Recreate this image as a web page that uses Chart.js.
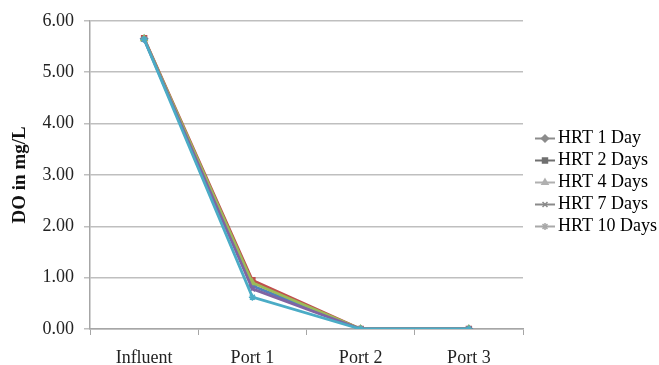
<!DOCTYPE html>
<html>
<head>
<meta charset="utf-8">
<script src="https://cdn.jsdelivr.net/npm/chart.js@4/dist/chart.umd.min.js"></script>
<style>
  html, body { margin: 0; padding: 0; background: #fff; }
  #wrap { width: 659px; height: 365px; }
</style>
</head>
<body>
<div id="wrap"><canvas id="doChart"></canvas></div>
<script>
// Sampling locations
const locations = ['Influent', 'Port 1', 'Port 2', 'Port 3'];

// DO (mg/L) per HRT
const hrt1Day = [5.65, 0.84, 0.00, 0.00];
const hrt2Days = [5.66, 0.95, 0.00, 0.00];
const hrt4Days = [5.65, 0.90, 0.00, 0.00];
const hrt7Days = [5.64, 0.78, 0.00, 0.00];
const hrt10Days = [5.64, 0.62, 0.00, 0.00];

const yTicks = [0, 1, 2, 3, 4, 5, 6];

const serif = '"Liberation Serif", "DejaVu Serif", serif';

function series(label, data, color, legendColor, marker, order) {
    return {
        label: label,
        data: data,
        borderColor: color,
        backgroundColor: color,
        borderWidth: 2.8,
        pointStyle: marker,
        pointRadius: 3.5,
        pointBorderWidth: 1.5,
        legendColor: legendColor,
        order: order,
        tension: 0
    };
}

// Excel style legend keys: a short gray line with the marker on it
const legendKeys = {
    id: 'legendKeys',
    afterDraw(chart) {
        const legend = chart.legend;
        if (!legend || !legend.legendHitBoxes) return;
        const ctx = chart.ctx;
        legend.legendHitBoxes.forEach((box, i) => {
            const ds = chart.data.datasets[i];
            const y = box.top + box.height / 2;
            const cx = box.left + 18;
            ctx.save();
            ctx.strokeStyle = ds.legendColor;
            ctx.lineWidth = 2;
            ctx.beginPath();
            ctx.moveTo(cx - 10, y);
            ctx.lineTo(cx + 10, y);
            ctx.stroke();
            ctx.fillStyle = ds.legendColor;
            ctx.lineWidth = 1.5;
            Chart.helpers.drawPoint(ctx, {
                pointStyle: ds.pointStyle,
                radius: 3.5,
                rotation: 0,
                borderWidth: 1.5
            }, cx, y);
            ctx.restore();
        });
    }
};

const ctx = document.getElementById('doChart').getContext('2d');

new Chart(ctx, {
    type: 'line',
    data: {
        labels: locations,
        datasets: [
            series('HRT 1 Day', hrt1Day, '#4F81BD', '#8c8c8c', 'rectRot', 5),
            series('HRT 2 Days', hrt2Days, '#C0504D', '#707070', 'rect', 4),
            series('HRT 4 Days', hrt4Days, '#9BBB59', '#b0b0b0', 'triangle', 3),
            series('HRT 7 Days', hrt7Days, '#8064A2', '#8a8a8a', 'crossRot', 2),
            series('HRT 10 Days', hrt10Days, '#4BACC6', '#a8a8a8', 'star', 1)
        ]
    },
    options: {
        responsive: true,
        maintainAspectRatio: false,
        animation: false,
        layout: {
            padding: 0
        },
        plugins: {
            // blank title, only reserves the space above the plot
            title: {
                display: true,
                text: ' ',
                font: { size: 10 },
                padding: { top: 0, bottom: 7 }
            },
            legend: {
                position: 'right',
                maxWidth: 136,
                labels: {
                    usePointStyle: false,
                    boxWidth: 22,
                    boxHeight: 12,
                    padding: 4,
                    color: '#222',
                    font: { family: serif, size: 18 },
                    generateLabels(chart) {
                        return chart.data.datasets.map((ds, i) => ({
                            text: ds.label,
                            fillStyle: 'rgba(0,0,0,0)',
                            strokeStyle: 'rgba(0,0,0,0)',
                            lineWidth: 0,
                            datasetIndex: i,
                            hidden: false
                        }));
                    }
                }
            },
            tooltip: { enabled: false }
        },
        scales: {
            x: {
                offset: true,
                grid: {
                    offset: true,
                    drawOnChartArea: false,
                    drawTicks: true,
                    tickLength: 6,
                    color: '#a6a6a6'
                },
                border: { color: '#a6a6a6', width: 1.5 },
                ticks: {
                    color: '#222',
                    padding: 12,
                    font: { family: serif, size: 18 }
                },
                afterFit(scale) {
                    scale.height = 36;
                }
            },
            y: {
                min: 0,
                max: 6,
                afterBuildTicks(scale) {
                    scale.ticks = yTicks.map(v => ({ value: v }));
                },
                grid: {
                    color: '#bfbfbf',
                    lineWidth: 1.5,
                    tickLength: 6
                },
                border: { color: '#a6a6a6', width: 1.5 },
                ticks: {
                    color: '#222',
                    padding: 10,
                    font: { family: serif, size: 18 },
                    callback: value => value.toFixed(2)
                },
                title: {
                    display: true,
                    text: 'DO in mg/L',
                    color: '#111',
                    font: { family: serif, size: 19, weight: 'bold' },
                    padding: { top: 9, bottom: 0 }
                },
                afterFit(scale) {
                    scale.width = 90;
                }
            }
        }
    },
    plugins: [legendKeys]
});
</script>
</body>
</html>
